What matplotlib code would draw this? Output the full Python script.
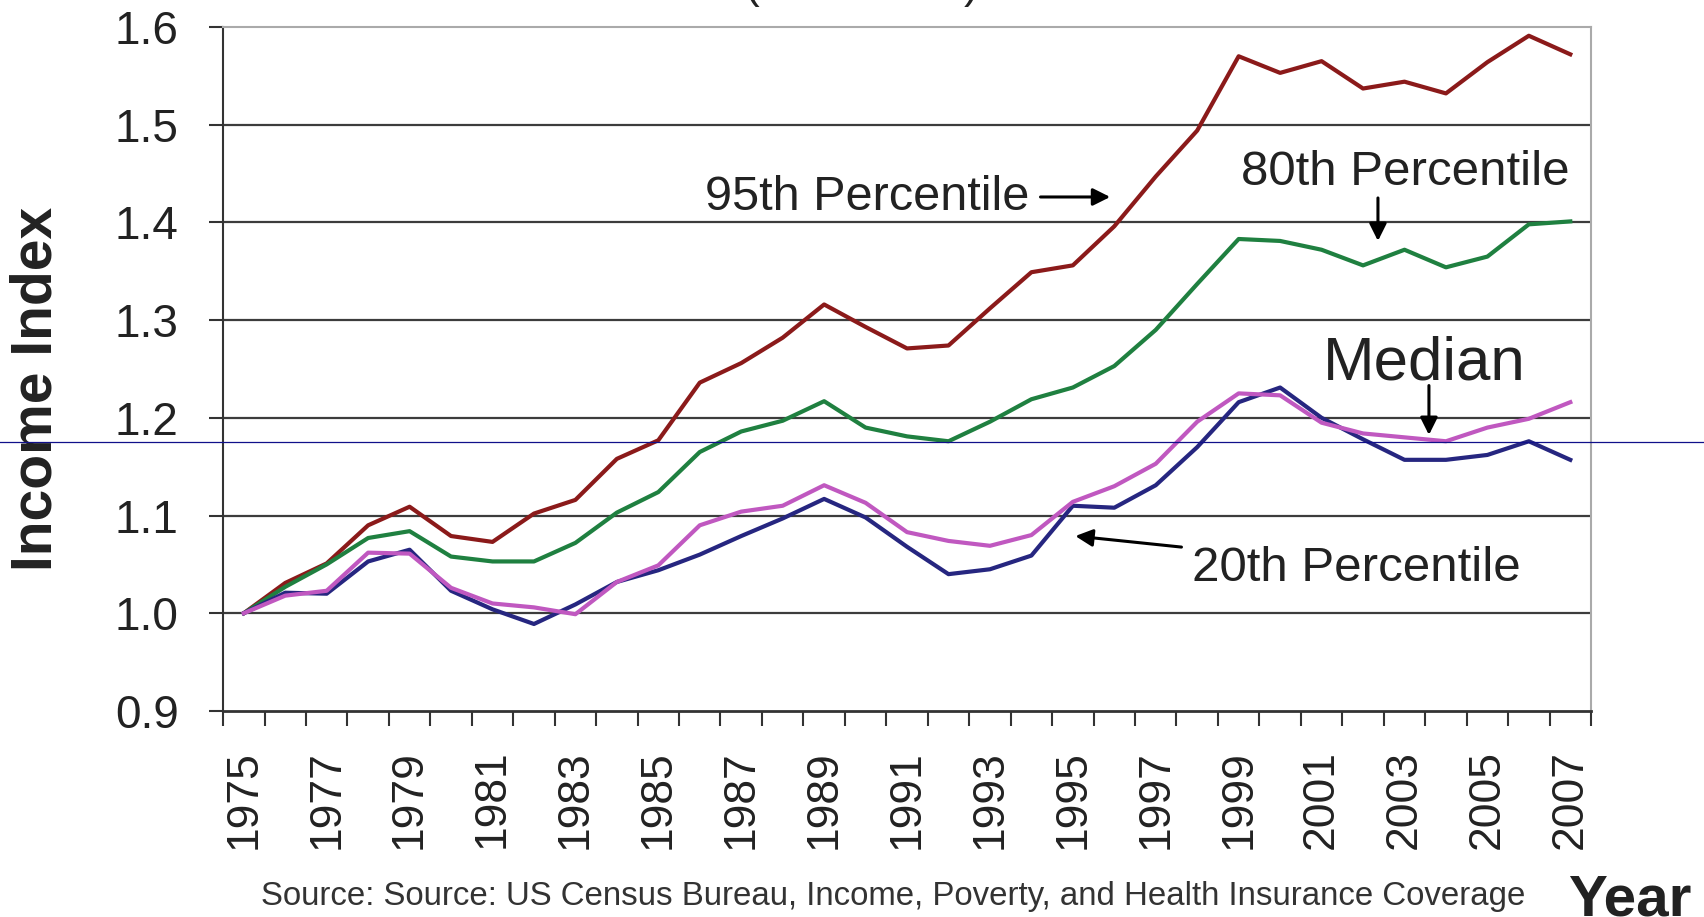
import matplotlib
matplotlib.use('Agg')
import matplotlib.pyplot as plt
from matplotlib.lines import Line2D

# 收入指数 (1975 = 1.0)
years = list(range(1975, 2008))
p95 = [1.000, 1.031, 1.051, 1.090, 1.109, 1.079, 1.073, 1.102, 1.116, 1.158, 1.177,
       1.236, 1.256, 1.282, 1.316, 1.293, 1.271, 1.274, 1.312, 1.349, 1.356, 1.396,
       1.447, 1.494, 1.570, 1.553, 1.565, 1.537, 1.544, 1.532, 1.564, 1.591, 1.572]
p80 = [1.000, 1.027, 1.050, 1.077, 1.084, 1.058, 1.053, 1.053, 1.072, 1.103, 1.124,
       1.165, 1.186, 1.197, 1.217, 1.190, 1.181, 1.176, 1.196, 1.219, 1.231, 1.253,
       1.290, 1.337, 1.383, 1.381, 1.372, 1.356, 1.372, 1.354, 1.365, 1.398, 1.401]
median = [1.000, 1.018, 1.023, 1.062, 1.061, 1.026, 1.010, 1.006, 0.999, 1.032, 1.049,
          1.090, 1.104, 1.110, 1.131, 1.113, 1.083, 1.074, 1.069, 1.080, 1.114, 1.130,
          1.153, 1.196, 1.225, 1.223, 1.195, 1.184, 1.180, 1.176, 1.190, 1.199, 1.216]
p20 = [1.000, 1.021, 1.020, 1.053, 1.065, 1.023, 1.004, 0.989, 1.009, 1.032, 1.044,
       1.060, 1.079, 1.097, 1.117, 1.098, 1.068, 1.040, 1.045, 1.059, 1.110, 1.108,
       1.131, 1.170, 1.216, 1.231, 1.200, 1.178, 1.157, 1.157, 1.162, 1.176, 1.157]
yticks = [0.9, 1.0, 1.1, 1.2, 1.3, 1.4, 1.5, 1.6]
grid_levels = [1.0, 1.1, 1.2, 1.3, 1.4, 1.5]

plt.rcParams['font.family'] = ['Liberation Sans', 'DejaVu Sans']
txt_color = '#222222'

fig = plt.figure(figsize=(17.04, 9.17), dpi=100)
ax = fig.add_axes([0.1309, 0.2247, 0.8028, 0.7459])

x = list(range(len(years)))
for v in grid_levels:
    ax.axhline(v, color='#3c3c3c', lw=1.6, zorder=1)

ax.plot(x, p95, color='#8b1a1a', lw=3.0, zorder=3)
ax.plot(x, p80, color='#1f8040', lw=3.0, zorder=3)
ax.plot(x, median, color='#c058c0', lw=3.0, zorder=4)
ax.plot(x, p20, color='#262680', lw=3.0, zorder=3)

ax.set_xlim(-0.5, len(years) - 0.5)
ax.set_ylim(0.9, 1.6)
ax.set_yticks(yticks)
ax.set_yticklabels(['%.1f' % v for v in yticks], fontsize=33, color=txt_color)
ax.set_xticks(x[::2])
ax.set_xticklabels([str(y) for y in years[::2]], rotation=90, fontsize=32, color=txt_color)
ax.set_xticks([i - 0.5 for i in range(len(years) + 1)], minor=True)
ax.tick_params(axis='x', which='major', length=0, pad=28)
ax.tick_params(axis='x', which='minor', length=11, width=1.5, color='#333333')
ax.tick_params(axis='y', length=10, width=1.5, pad=22, color='#333333')

for s in ['top', 'right']:
    ax.spines[s].set_color('#aaaaaa')
    ax.spines[s].set_linewidth(1.5)
ax.spines['left'].set_color('#333333')
ax.spines['left'].set_linewidth(1.5)
ax.spines['bottom'].set_color('#333333')
ax.spines['bottom'].set_linewidth(2)

# 标注文字和箭头
arrow = dict(arrowstyle='-|>', color='black', lw=2.2, mutation_scale=26, shrinkA=0, shrinkB=0)
ax.text(18.95, 1.413, '95th Percentile', fontsize=35, ha='right', va='baseline', color=txt_color)
ax.annotate('', xy=(20.9, 1.426), xytext=(19.22, 1.426), arrowprops=arrow)
ax.text(24.06, 1.438, '80th Percentile', fontsize=35.5, ha='left', va='baseline', color=txt_color)
ax.annotate('', xy=(27.36, 1.381), xytext=(27.36, 1.425), arrowprops=arrow)
ax.text(26.04, 1.239, 'Median', fontsize=44.5, ha='left', va='baseline', color=txt_color)
ax.annotate('', xy=(28.59, 1.1825), xytext=(28.59, 1.233), arrowprops=arrow)
ax.text(22.88, 1.033, '20th Percentile', fontsize=35.5, ha='left', va='baseline', color=txt_color)
ax.annotate('', xy=(20.06, 1.079), xytext=(22.62, 1.0677), arrowprops=arrow)

fig.text(0.0214, 0.5763, 'Income Index', rotation=90, fontsize=41, fontweight='bold',
         ha='center', va='center', color=txt_color)
fig.text(0.920, 0.002, 'Year', fontsize=42, fontweight='bold', ha='left', va='baseline',
         color=txt_color)
fig.text(0.1532, 0.0131, 'Source: Source: US Census Bureau, Income, Poverty, and Health Insurance Coverage',
         fontsize=23.8, ha='left', va='baseline', color='#333333')

# 被裁掉的标题只剩括号底部
fig.text(0.437, 1.002, '(', fontsize=32, va='baseline', color=txt_color)
fig.text(0.5657, 1.002, ')', fontsize=32, va='baseline', color=txt_color)

# 横穿整张图的细蓝线
fig.add_artist(Line2D([0, 1], [0.5185, 0.5185], transform=fig.transFigure,
                      color='#10108a', lw=0.9, zorder=10))

fig.savefig('out.png', dpi=100)
plt.close()
